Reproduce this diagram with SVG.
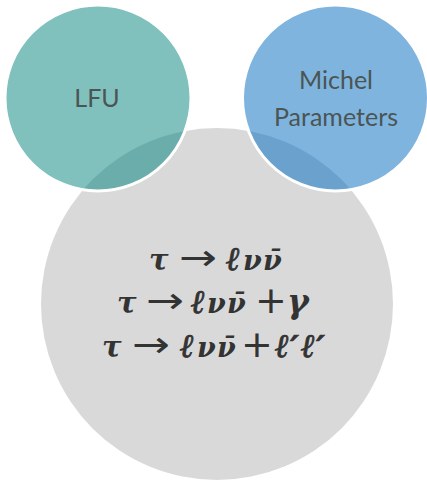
<svg xmlns="http://www.w3.org/2000/svg" width="427" height="481" viewBox="0 0 427 481">
<style>
.lbl{font-family:Lato,"Open Sans",sans-serif;font-size:25px;fill:#4a5554;text-anchor:middle}
.math{font-family:"DejaVu Serif",serif;font-style:italic;font-weight:bold;font-size:29px;fill:#333}
.nu{font-size:27px}
.ell{font-family:"Liberation Serif","DejaVu Serif",serif;font-size:33px;stroke:#333;stroke-width:0.8}
.pr{font-size:34px;stroke:#333;stroke-width:0.6}
.gam{font-size:33px}
.ar{font-family:"DejaVu Sans",sans-serif;font-style:normal;font-weight:normal;font-size:36px}
.pl{font-family:"DejaVu Sans",sans-serif;font-style:normal;font-weight:normal;font-size:38px}
.ring{fill:none;stroke:#fff;stroke-width:3}
</style>
<defs>
<clipPath id="cTeal"><circle cx="98" cy="98" r="92.5"/></clipPath>
<clipPath id="cBlue"><circle cx="335.5" cy="98" r="92.5"/></clipPath>
</defs>
<g id="node-decays">
<circle cx="217" cy="304" r="176" fill="#d9d9d9"/>
</g>
<g id="node-lfu">
<circle cx="98" cy="98" r="92.5" fill="#80c1bd"/>
<circle cx="217" cy="304" r="176" fill="#6badaa" clip-path="url(#cTeal)"/>
<circle class="ring" cx="98" cy="98" r="93"/>
<text class="lbl" x="97" y="107">LFU</text>
</g>
<g id="node-michel">
<circle cx="335.5" cy="98" r="92.5" fill="#7fb4df"/>
<circle cx="217" cy="304" r="176" fill="#6aa2cd" clip-path="url(#cBlue)"/>
<circle class="ring" cx="335.5" cy="98" r="93"/>
<text class="lbl" x="336" y="89">Michel</text>
<text class="lbl" x="336" y="126">Parameters</text>
</g>
<g id="decay-text">
<text class="math" y="270"><tspan x="149">τ</tspan> <tspan class="ar" x="179" textLength="38" lengthAdjust="spacingAndGlyphs">→</tspan> <tspan class="ell" x="226">ℓ</tspan><tspan class="nu" x="243">ν</tspan><tspan class="nu" x="263">ν̄</tspan></text>
<text class="math" y="313"><tspan x="117">τ</tspan> <tspan class="ar" x="146" textLength="38" lengthAdjust="spacingAndGlyphs">→</tspan> <tspan class="ell" x="191">ℓ</tspan><tspan class="nu" x="207">ν</tspan><tspan class="nu" x="227">ν̄</tspan> <tspan class="pl" x="255">+</tspan> <tspan class="gam" x="287">γ</tspan></text>
<text class="math" y="357"><tspan x="102">τ</tspan> <tspan class="ar" x="132" textLength="38" lengthAdjust="spacingAndGlyphs">→</tspan> <tspan class="ell" x="180">ℓ</tspan><tspan class="nu" x="197">ν</tspan><tspan class="nu" x="217">ν̄</tspan> <tspan class="pl" x="241">+</tspan> <tspan class="ell" x="275">ℓ</tspan><tspan class="pr" x="290" y="360">′</tspan><tspan class="ell" x="301" y="357">ℓ</tspan><tspan class="pr" x="316" y="360">′</tspan></text>
</g>
<g id="connectors"/>
</svg>
